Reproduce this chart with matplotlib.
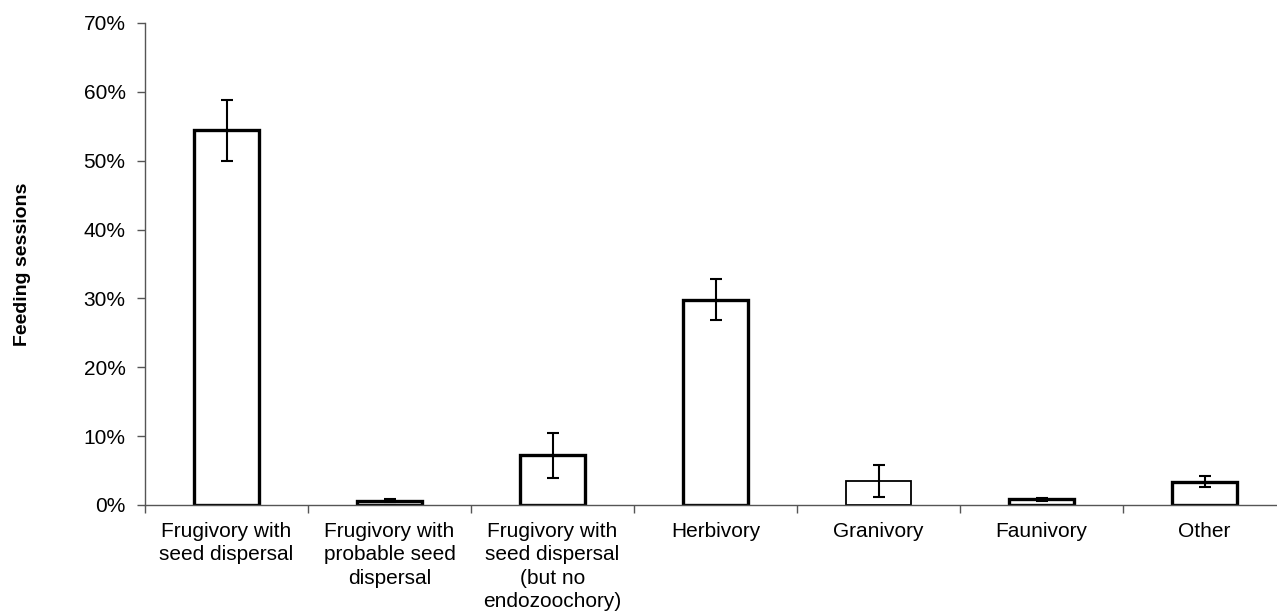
import matplotlib
matplotlib.use("Agg")
import matplotlib.pyplot as plt
from matplotlib.ticker import FixedLocator, FuncFormatter

plt.rcParams['font.family'] = ['Liberation Sans', 'DejaVu Sans']

categories = ['Frugivory with\nseed dispersal',
              'Frugivory with\nprobable seed\ndispersal',
              'Frugivory with\nseed dispersal\n(but no\nendozoochory)',
              'Herbivory', 'Granivory', 'Faunivory', 'Other']
# percent of feeding sessions, and error (+/-)
sessions = [54.4, 0.6, 7.2, 29.8, 3.5, 0.8, 3.4]
errors = [4.4, 0.2, 3.3, 2.95, 2.35, 0.25, 0.85]

# style only
edge_widths = [2.4, 2.4, 2.4, 2.4, 1.3, 2.4, 2.4]

fig = plt.figure(figsize=(12.77, 6.13), dpi=100)
ax = fig.add_axes([145/1277, 108/613, 1141/1277, 482/613])

x = list(range(len(categories)))
ax.bar(x, sessions, width=0.4, color='white', edgecolor='black',
       linewidth=edge_widths, zorder=2)
ax.errorbar(x, sessions, yerr=errors, fmt='none', ecolor='black',
            elinewidth=1.5, capsize=4.5, capthick=1.5, zorder=3)

ax.set_xlim(-0.5, len(categories) - 0.5)
ax.set_ylim(0, 70)
ax.set_yticks(range(0, 71, 10))
ax.yaxis.set_major_formatter(FuncFormatter(lambda v, p: '%d%%' % v))
ax.set_xticks(x)
ax.set_xticklabels(categories, fontsize=15, linespacing=1.3)
ax.xaxis.set_minor_locator(FixedLocator([i - 0.5 for i in range(len(categories) + 1)]))
ax.tick_params(axis='x', which='major', length=0, pad=12)
ax.tick_params(axis='x', which='minor', length=6, width=1, color='#555555')
ax.tick_params(axis='y', length=6, width=1, color='#555555', labelsize=15, pad=8)

for side in ['top', 'right']:
    ax.spines[side].set_visible(False)
for side in ['left', 'bottom']:
    ax.spines[side].set_color('#555555')
    ax.spines[side].set_linewidth(1)

ax.set_ylabel('Feeding sessions', fontsize=14, fontweight='bold', labelpad=38)

fig.savefig('out.png', dpi=100)
